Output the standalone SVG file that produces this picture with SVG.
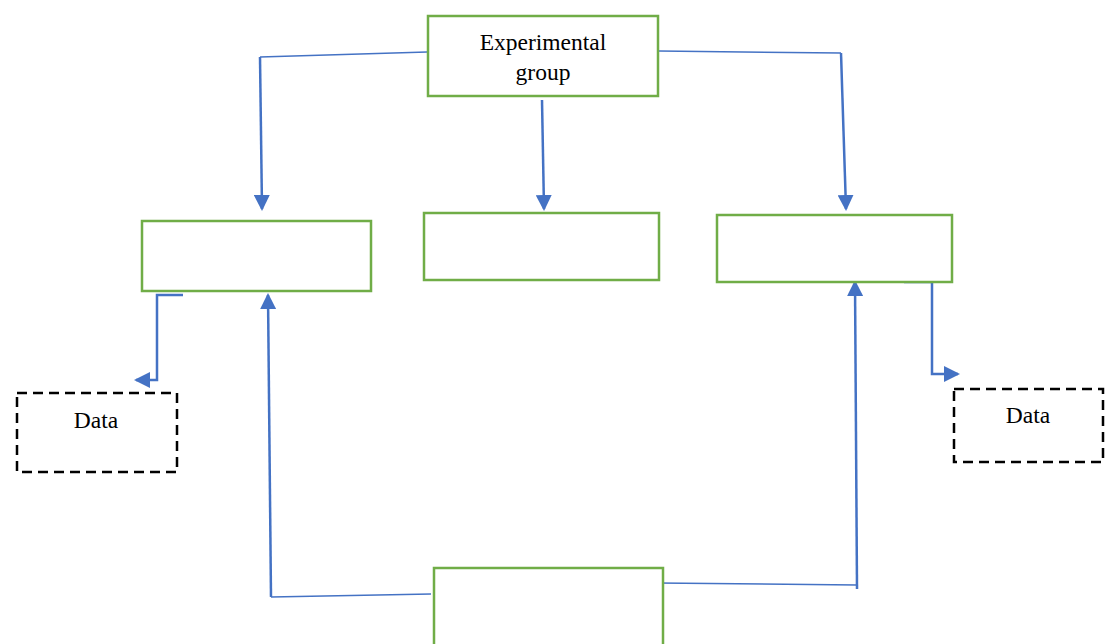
<svg xmlns="http://www.w3.org/2000/svg" width="1112" height="644" viewBox="0 0 1112 644">
<style>
.box{fill:#fff;stroke:#70AD47;stroke-width:2.5}
.data{fill:#fff;stroke:#000;stroke-width:2.5;stroke-dasharray:10,6}
.txt{font-family:"Liberation Serif",serif;font-size:23.5px;fill:#000;text-anchor:middle}
.thin{fill:none;stroke:#4472C4;stroke-width:1.5}
.thick{fill:none;stroke:#4472C4;stroke-width:2.5}
</style>
<defs>
<marker id="arr" markerUnits="userSpaceOnUse" markerWidth="16" markerHeight="16" viewBox="0 0 16 16" refX="14" refY="8" orient="auto">
<path d="M0,0 L16,8 L0,16 Z" fill="#4472C4"/>
</marker>
</defs>
<rect width="1112" height="644" fill="#fff"/>
<g id="connectors">
<path class="thin" d="M427,52 L260,57"/>
<path class="thick" d="M260,57 L262,209" marker-end="url(#arr)"/>
<path class="thick" d="M542,100 L544,209" marker-end="url(#arr)"/>
<path class="thin" d="M659,51 L841,53"/>
<path class="thick" d="M841,53 L846,209" marker-end="url(#arr)"/>
<path class="thick" d="M183,295 L157,295 L157,380 L136,380" marker-end="url(#arr)"/>
<path class="thick" d="M904,282 L932,282 L932,374 L958,374" marker-end="url(#arr)"/>
<path class="thin" d="M431,594 L271,597"/>
<path class="thick" d="M271,597 L268,295" marker-end="url(#arr)"/>
<path class="thin" d="M657,583 L857,585"/>
<path class="thick" d="M857,589 L855,282" marker-end="url(#arr)"/>
</g>
<g id="experimental">
<rect class="box" x="428" y="16" width="230" height="80"/>
<text class="txt" x="543" y="50">Experimental</text>
<text class="txt" x="543" y="80">group</text>
</g>
<g id="box-left"><rect class="box" x="142" y="221" width="229" height="70"/></g>
<g id="box-middle"><rect class="box" x="424" y="213" width="235" height="67"/></g>
<g id="box-right"><rect class="box" x="717" y="215" width="235" height="67"/></g>
<g id="box-bottom"><rect class="box" x="434" y="568" width="229" height="84"/></g>
<g id="data-left">
<rect class="data" x="17" y="393" width="160" height="79"/>
<text class="txt" x="96" y="428">Data</text>
</g>
<g id="data-right">
<rect class="data" x="954" y="389" width="149" height="73"/>
<text class="txt" x="1028" y="423">Data</text>
</g>
</svg>
